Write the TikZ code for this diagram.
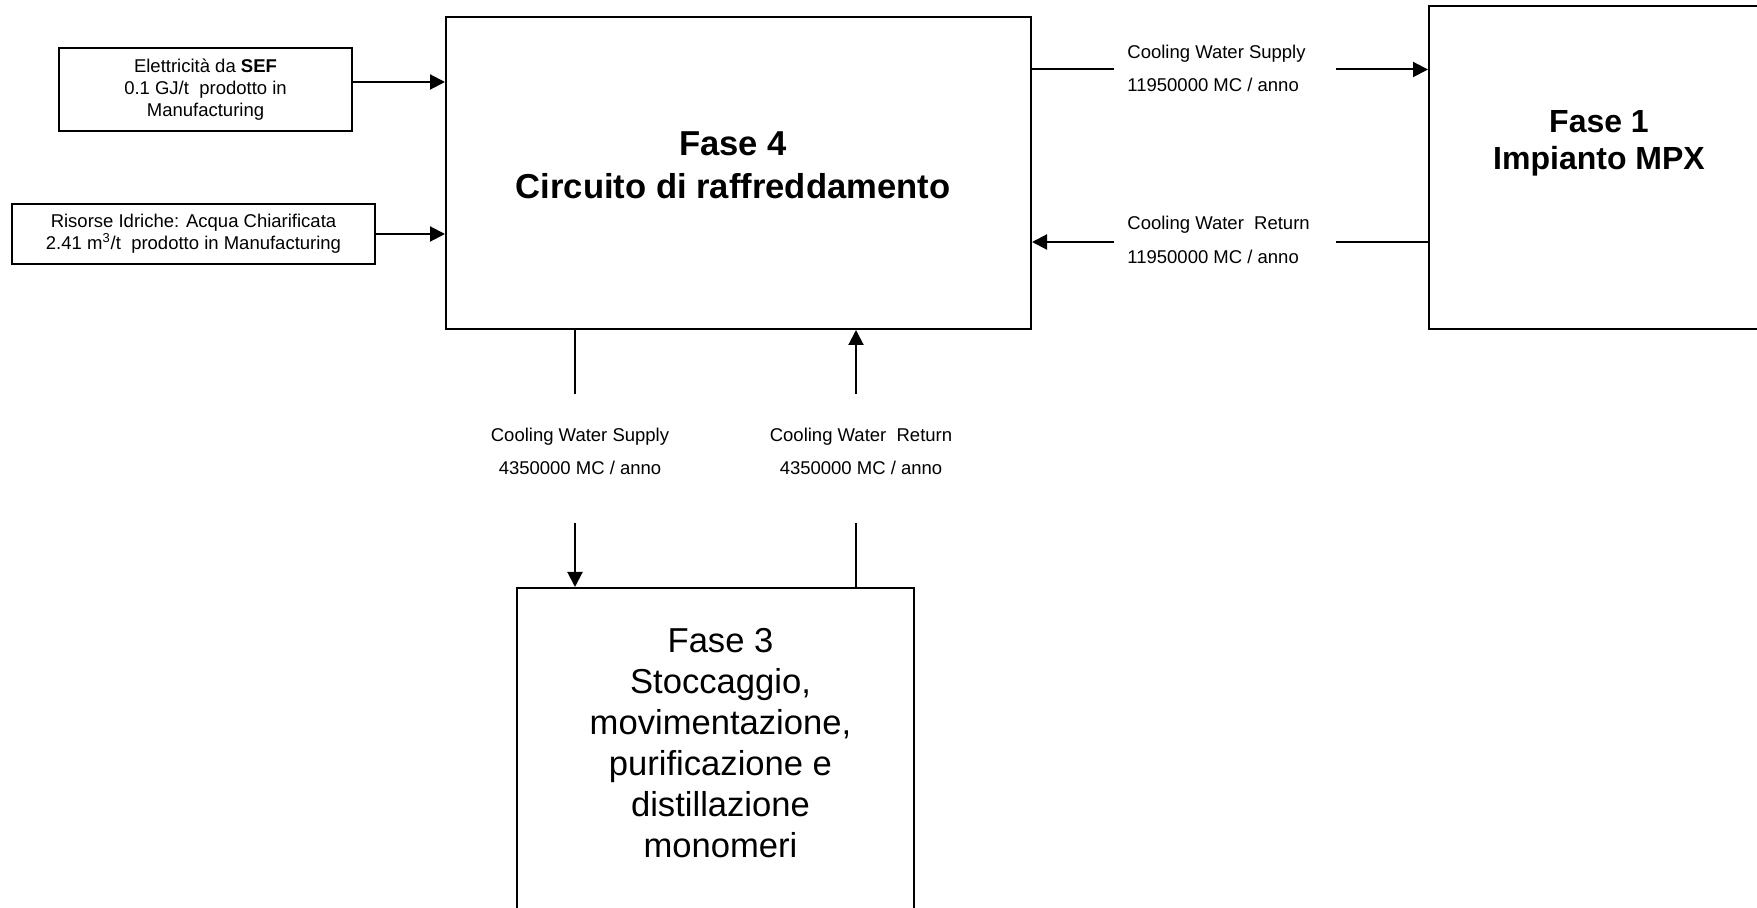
\documentclass[tikz,border=0pt]{standalone}
\usepackage{fontspec}
\setmainfont{Liberation Sans}
\usetikzlibrary{arrows.meta}

\begin{document}
\begin{tikzpicture}[x=0.5pt,y=-0.5pt,
  phase/.style={draw,line width=1pt,inner sep=0pt},
  phasetitle/.style={align=center,inner sep=0pt},
  srcbox/.style={draw,line width=0.65pt,align=center,inner sep=0pt,font=\fontsize{9.25}{10.9}\selectfont},
  flowlabel/.style={inner sep=0pt,font=\fontsize{9.25}{16.8}\selectfont},
  pipe/.style={line width=1pt},
  flow/.style={line width=1pt,-{Triangle[length=7.5pt,width=7.5pt]}}]
\useasboundingbox (0,0) rectangle (1757,908);
\clip (0,0) rectangle (1757,908);

% fasi
\node[phase,minimum width=292.5pt,minimum height=156pt] (f4) at (738.5,173) {};
\node[phase,minimum width=170.5pt,minimum height=161.5pt] (f1) at (1599.5,167.5) {};
\node[phase,minimum width=198.5pt,minimum height=175pt] (f3) at (715.5,763) {};
\node[phasetitle,font=\fontsize{17.3}{21.3}\selectfont\bfseries] (f4t) at (733,165) {Fase 4\\Circuito di raffreddamento};
\node[phasetitle,font=\fontsize{16}{18.5}\selectfont\bfseries] (f1t) at (1599,143) {Fase 1\\Impianto MPX};
\node[phasetitle,font=\fontsize{17.3}{20.5}\selectfont] (f3t) at (720.5,743.5) {Fase 3\\Stoccaggio,\\movimentazione,\\purificazione e\\distillazione\\monomeri};

% ingressi
\node[srcbox,minimum width=146.5pt,minimum height=41.5pt] (elet) at (205.5,89.5) {Elettricità da \textbf{SEF}\\0.1 GJ/t\ \ prodotto in\\Manufacturing};
\node[srcbox,minimum width=181.5pt,minimum height=30pt] (ris) at (193.5,234) {Risorse Idriche: Acqua Chiarificata\\2.41 m\textsuperscript{3}/t\ \ prodotto in Manufacturing};
\draw[flow] ([yshift=3.75pt]elet.east) coordinate (eout) -- (eout -| f4.west);
\draw[flow] (ris.east) -- (ris.east -| f4.west);

% verso Fase 1
\node[flowlabel,align=left,anchor=west] (supR) at (1127,68.3) {Cooling Water Supply\\11950000 MC / anno};
\node[flowlabel,align=left,anchor=west] (retR) at (1127,239.8) {Cooling Water\ \ Return\\11950000 MC / anno};
\coordinate (supRa) at (1114,69.5);
\coordinate (supRb) at (1336,69.5);
\coordinate (retRa) at (1114,242);
\coordinate (retRb) at (1336,242);
\draw[pipe] (f4.east |- supRa) -- (supRa);
\draw[flow] (supRb) -- (supRb -| f1.west);
\draw[pipe] (f1.west |- retRb) -- (retRb);
\draw[flow] (retRa) -- (retRa -| f4.east);

% verso Fase 3
\node[flowlabel,align=center] (supB) at (580,451.5) {Cooling Water Supply\\4350000 MC / anno};
\node[flowlabel,align=center] (retB) at (861,451.5) {Cooling Water\ \ Return\\4350000 MC / anno};
\coordinate (supBa) at (575,394);
\coordinate (supBb) at (575,523);
\coordinate (retBa) at (856,394);
\coordinate (retBb) at (856,523);
\draw[pipe] (f4.south -| supBa) -- (supBa);
\draw[flow] (supBb) -- (supBb |- f3.north);
\draw[pipe] (f3.north -| retBb) -- (retBb);
\draw[flow] (retBa) -- (retBa |- f4.south);
\end{tikzpicture}
\end{document}
